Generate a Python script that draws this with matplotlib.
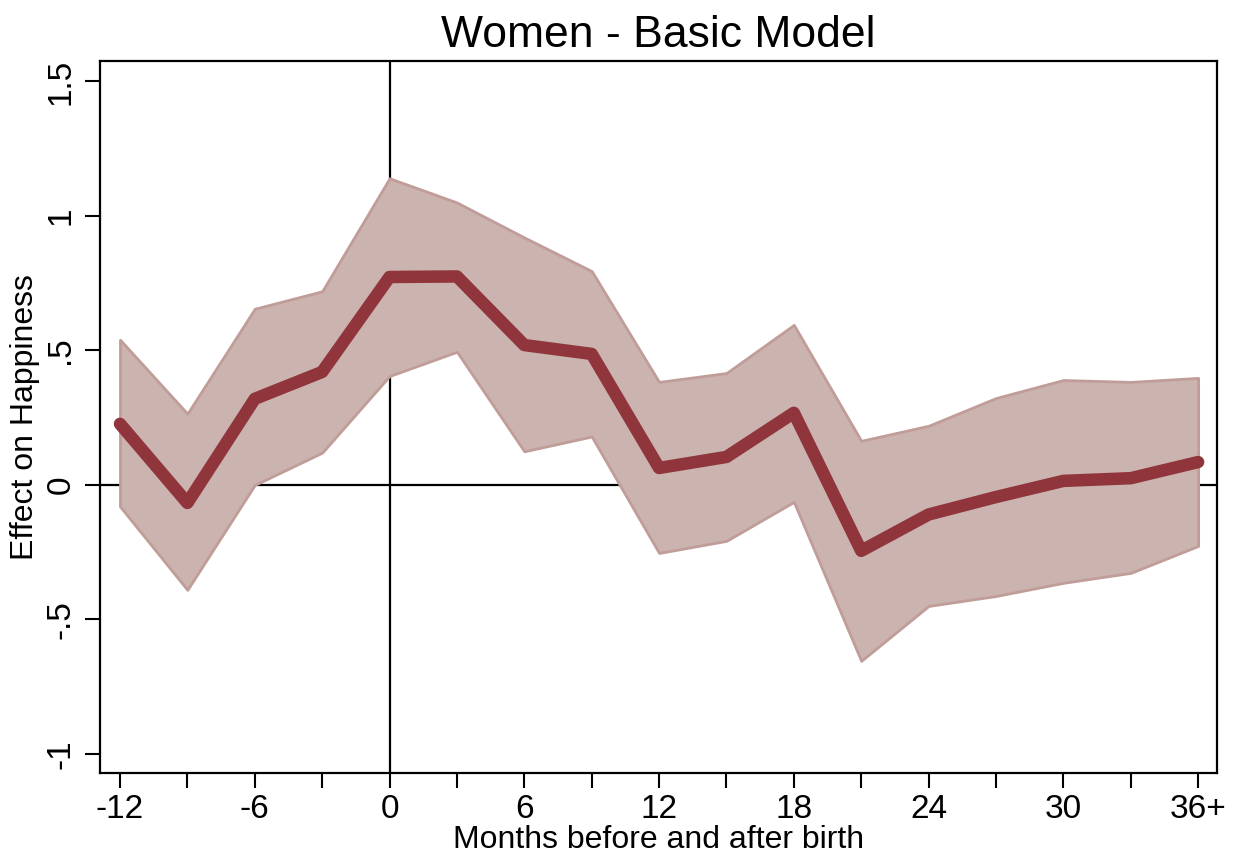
import matplotlib.pyplot as plt

# months relative to birth
months = [-12, -9, -6, -3, 0, 3, 6, 9, 12, 15, 18, 21, 24, 27, 30, 33, 36]
effect = [0.227, -0.067, 0.32, 0.42, 0.773, 0.775, 0.52, 0.487, 0.063, 0.104,
          0.268, -0.245, -0.11, -0.045, 0.015, 0.025, 0.085]
upper = [0.54, 0.265, 0.655, 0.72, 1.14, 1.05, 0.92, 0.795, 0.383, 0.416,
         0.595, 0.164, 0.22, 0.323, 0.39, 0.383, 0.398]
lower = [-0.08, -0.39, 0.0, 0.12, 0.405, 0.495, 0.125, 0.18, -0.253, -0.208,
         -0.063, -0.654, -0.45, -0.413, -0.364, -0.327, -0.227]

xticks = [-12, -6, 0, 6, 12, 18, 24, 30, 36]
xticklabels = ['-12', '-6', '0', '6', '12', '18', '24', '30', '36+']
yticks = [-1, -0.5, 0, 0.5, 1, 1.5]
yticklabels = ['-1', '-.5', '0', '.5', '1', '1.5']

plt.rcParams['font.family'] = ['Liberation Sans', 'DejaVu Sans']

fig = plt.figure(figsize=(12.34, 8.61), dpi=100)
ax = fig.add_axes([100 / 1234, 88 / 861, 1117 / 1234, 712 / 861])

ax.fill_between(months, lower, upper, facecolor='#cbb3af', edgecolor='#c09d98',
                linewidth=2, zorder=2)
ax.plot(months, effect, color='#90353b', linewidth=9, solid_capstyle='round',
        solid_joinstyle='round', zorder=3)
ax.axhline(0, color='black', linewidth=1.6, zorder=1)
ax.axvline(0, color='black', linewidth=1.6, zorder=1)

ax.set_xlim(-12.89, 36.84)
ax.set_ylim(-1.071, 1.576)

ax.set_xticks(months, minor=True)
ax.set_xticks(xticks)
ax.set_xticklabels(xticklabels, fontsize=24)
ax.set_yticks(yticks)
ax.set_yticklabels(yticklabels, fontsize=24, rotation=90, va='center')
ax.tick_params(axis='both', which='both', direction='out', length=11, width=1.5)
ax.tick_params(axis='x', which='minor', length=11, width=1.5)
ax.tick_params(axis='x', pad=4)
ax.tick_params(axis='y', pad=6)
for s in ax.spines.values():
    s.set_linewidth(1.6)

ax.set_xlabel('Months before and after birth', fontsize=23, labelpad=0)
ax.set_ylabel('Effect on Happiness', fontsize=23, labelpad=4)
ax.set_title('Women - Basic Model', fontsize=32, pad=10)

fig.savefig('out.png', dpi=100)
